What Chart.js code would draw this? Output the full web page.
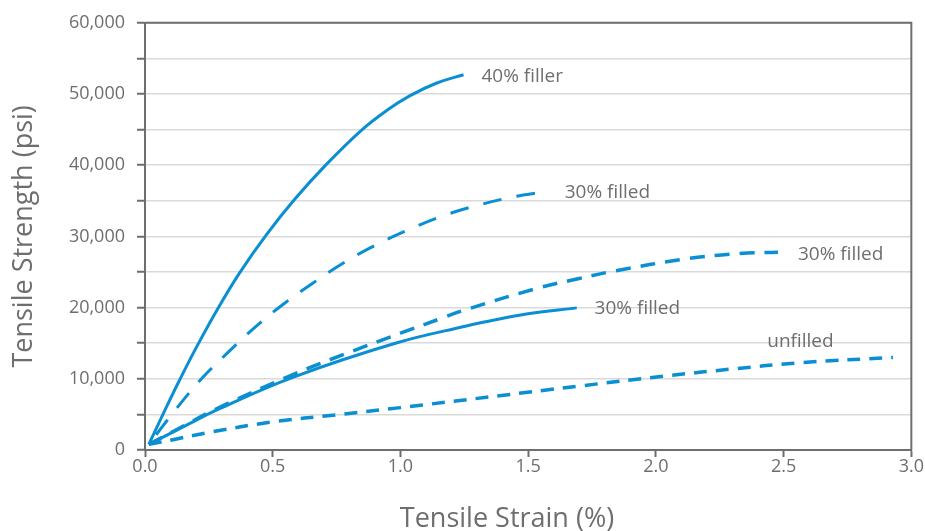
<!DOCTYPE html>
<html>
<head>
<meta charset="utf-8">
<script src="https://cdn.jsdelivr.net/npm/chart.js@4.4.1/dist/chart.umd.min.js"></script>
<style>
  html, body { margin: 0; padding: 0; background: #ffffff; }
  #wrap { width: 925px; height: 531px; }
</style>
</head>
<body>
<div id="wrap"><canvas id="c" width="925" height="531"></canvas></div>
<script>
// ---- Data ----
const xAxisTitle = "Tensile Strain (%)";
const yAxisTitle = "Tensile Strength (psi)";

// 40% filler (solid)
const strain40 = [0.015, 0.073, 0.133, 0.201, 0.282, 0.371, 0.475, 0.586, 0.710, 0.847, 0.950, 1.036, 1.140, 1.247];
const stress40 = [800, 5210, 9650, 14410, 19670, 24920, 30220, 35210, 40110, 44900, 47780, 49740, 51510, 52710];

// 30% filled (upper dashed)
const strain30a = [0.015, 0.123, 0.221, 0.325, 0.429, 0.540, 0.658, 0.775, 0.899, 1.029, 1.166, 1.303, 1.440, 1.558];
const stress30a = [800, 5810, 10000, 13700, 17180, 20440, 23450, 26230, 28700, 30890, 32880, 34370, 35530, 36220];

// 30% filled (lower dashed, long)
const strain30b = [0.015, 0.150, 0.292, 0.579, 0.788, 1.000, 1.166, 1.258, 1.545, 1.695, 1.832, 2.119, 2.327, 2.478];
const stress30b = [800, 3350, 6000, 10600, 13560, 16400, 18570, 19740, 22800, 24050, 25100, 26850, 27600, 27780];

// 30% filled (solid, lower)
const strain30c = [0.015, 0.149, 0.292, 0.579, 0.990, 1.258, 1.349, 1.493, 1.690];
const stress30c = [800, 3250, 5810, 10210, 15090, 17410, 18110, 19100, 19960];

// unfilled (short dashes)
const strainUn = [0.015, 0.110, 0.240, 0.500, 0.750, 1.000, 1.700, 2.040, 2.300, 2.562, 2.928];
const stressUn = [800, 1450, 2400, 3950, 4950, 5950, 8980, 10400, 11380, 12250, 13000];

// Curve labels (text and data-space anchor)
const labelTexts = ["40% filler", "30% filled", "30% filled", "30% filled", "unfilled"];
const labelStrain = [1.317, 1.643, 2.556, 1.760, 2.436];
const labelStress = [52490, 36220, 27490, 19880, 15190];

// Axis ranges / ticks
const xMin = 0, xMax = 3, xStep = 0.5;
const yMin = 0, yMax = 60000, yStep = 5000, yLabelEvery = 10000;

// ---- Styling ----
const LINE = '#0a8fd2';
const TEXT = '#6d6e70';
const AXIS = '#6d6e70';
const GRID = '#dadada';
const FONT = "'Open Sans', 'Noto Sans', sans-serif";

function pts(xs, ys) { return xs.map((x, i) => ({ x: x, y: ys[i] })); }

const curveLabels = {
  id: 'curveLabels',
  afterDatasetsDraw(chart) {
    const { ctx, scales: { x, y } } = chart;
    ctx.save();
    ctx.fillStyle = TEXT;
    ctx.font = "19px " + FONT;
    ctx.textAlign = 'left';
    ctx.textBaseline = 'middle';
    labelTexts.forEach((t, i) => {
      ctx.fillText(t, x.getPixelForValue(labelStrain[i]), y.getPixelForValue(labelStress[i]));
    });
    ctx.restore();
  }
};

const frame = {
  id: 'frame',
  afterDraw(chart) {
    const { ctx, chartArea: a } = chart;
    ctx.save();
    ctx.strokeStyle = AXIS;
    ctx.lineWidth = 2;
    ctx.beginPath();
    ctx.moveTo(a.left, a.top);
    ctx.lineTo(a.right, a.top);
    ctx.lineTo(a.right, a.bottom);
    ctx.stroke();
    // x-axis title
    ctx.fillStyle = TEXT;
    ctx.font = "27px " + FONT;
    ctx.textAlign = 'center';
    ctx.textBaseline = 'middle';
    ctx.fillText(xAxisTitle, 507, 519);
    ctx.restore();
  }
};

const common = { borderColor: LINE, pointRadius: 0, pointHoverRadius: 0, fill: false, tension: 0.4, cubicInterpolationMode: 'default' };

new Chart(document.getElementById('c'), {
  type: 'line',
  data: {
    datasets: [
      Object.assign({ label: '40% filler', data: pts(strain40, stress40), borderWidth: 3 }, common),
      Object.assign({ label: '30% filled a', data: pts(strain30a, stress30a), borderWidth: 3, borderDash: [19, 15], borderDashOffset: 22 }, common),
      Object.assign({ label: '30% filled b', data: pts(strain30b, stress30b), borderWidth: 3.5, borderDash: [15, 10] }, common),
      Object.assign({ label: '30% filled c', data: pts(strain30c, stress30c), borderWidth: 3 }, common),
      Object.assign({ label: 'unfilled', data: pts(strainUn, stressUn), borderWidth: 3.5, borderDash: [13, 9] }, common)
    ]
  },
  options: {
    responsive: false,
    animation: false,
    events: [],
    layout: { padding: { top: 19, right: 13, left: 0, bottom: 0 } },
    plugins: { legend: { display: false }, tooltip: { enabled: false } },
    scales: {
      x: {
        type: 'linear', position: 'bottom', min: xMin, max: xMax,
        afterFit(s) { s.height = 81; },
        ticks: { stepSize: xStep, color: TEXT, font: { family: FONT, size: 18, lineHeight: 1 }, padding: 1,
                 callback: v => Number(v).toFixed(1), maxRotation: 0 },
        grid: { drawOnChartArea: false, drawTicks: true, tickLength: 7, tickColor: AXIS, tickWidth: 2 },
        border: { display: true, color: AXIS, width: 2 },
        title: { display: false }
      },
      y: {
        type: 'linear', min: yMin, max: yMax,
        afterFit(s) { s.width = 145; },
        ticks: { stepSize: yStep, color: TEXT, font: { family: FONT, size: 18 }, padding: 12, autoSkip: false,
                 callback: v => (v % yLabelEvery === 0 ? v.toLocaleString('en-US') : '') },
        grid: { color: GRID, lineWidth: 1.5, drawTicks: true, tickLength: 8, tickColor: AXIS, tickWidth: 2 },
        border: { display: true, color: AXIS, width: 2 },
        title: { display: true, text: yAxisTitle, color: TEXT, font: { family: FONT, size: 27, lineHeight: 1 }, padding: { top: 11 } }
      }
    }
  },
  plugins: [curveLabels, frame]
});
</script>
</body>
</html>
